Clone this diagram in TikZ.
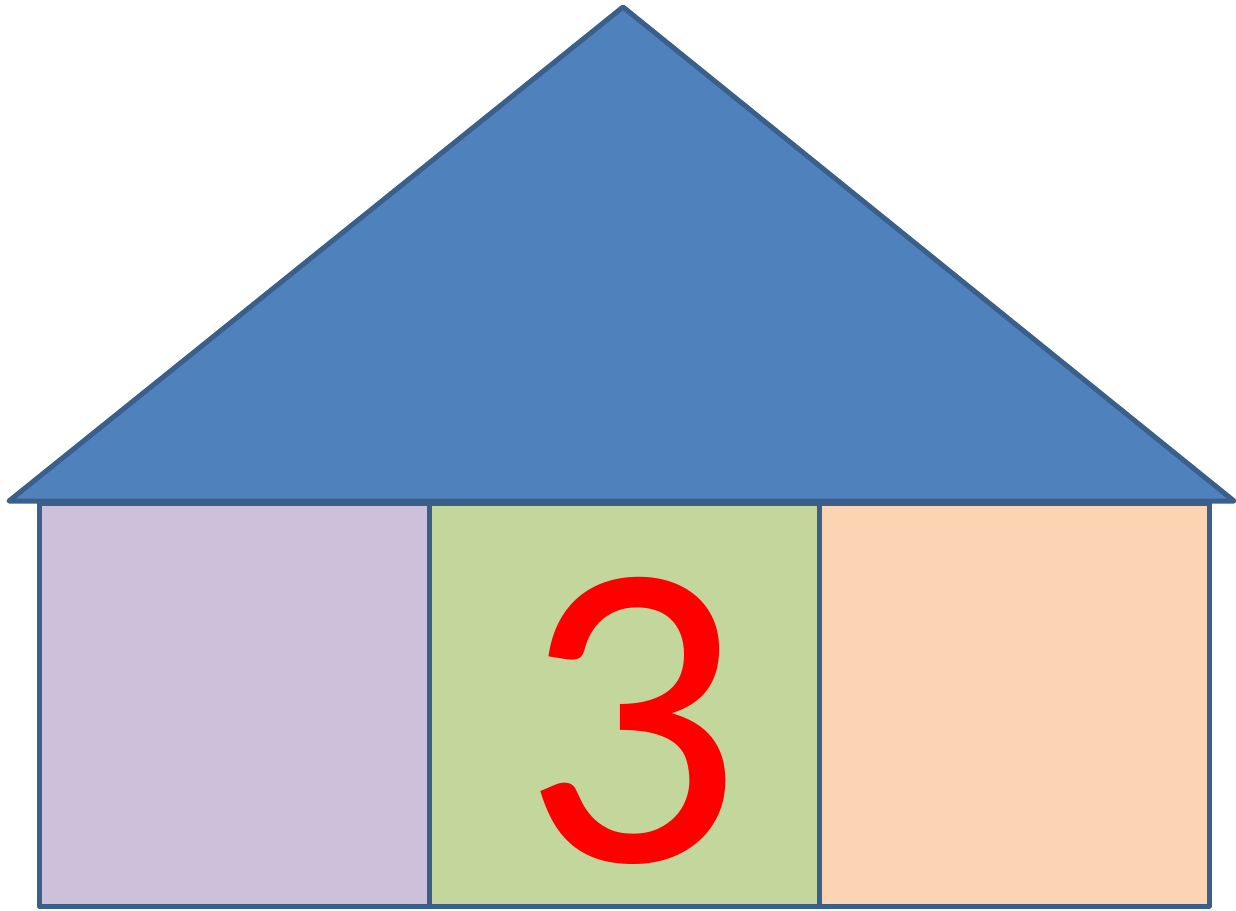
\documentclass[tikz,border=0pt]{standalone}
\usepackage{fontspec}
\newfontfamily\digitfont{Carlito}
\definecolor{roofblue}{HTML}{4F81BD}
\definecolor{edgeblue}{HTML}{3A5F8B}
\definecolor{wallpurple}{HTML}{CCC0DA}
\definecolor{wallgreen}{HTML}{C3D69B}
\definecolor{wallorange}{HTML}{FBD4B4}
\begin{document}
\begin{tikzpicture}[x=1pt,y=-1pt,
  wall/.style={draw=edgeblue,line width=5pt,line join=round},
  roof/.style={draw=edgeblue,fill=roofblue,line width=5pt,line join=round}]
\useasboundingbox (0,0) rectangle (1236,910);
\filldraw[wall,fill=wallpurple] (39,503) rectangle (429,906);
\filldraw[wall,fill=wallgreen] (429,503) rectangle (819,906);
\filldraw[wall,fill=wallorange] (819,503) rectangle (1209,906);
\filldraw[roof] (9,501) -- (623,7) -- (1234,501) -- cycle;
\node[anchor=base,text=red,inner sep=0pt,text depth=0pt,text height=280pt] (three) at (631,861) {\digitfont\fontsize{438}{438}\selectfont 3};
\end{tikzpicture}
\end{document}
